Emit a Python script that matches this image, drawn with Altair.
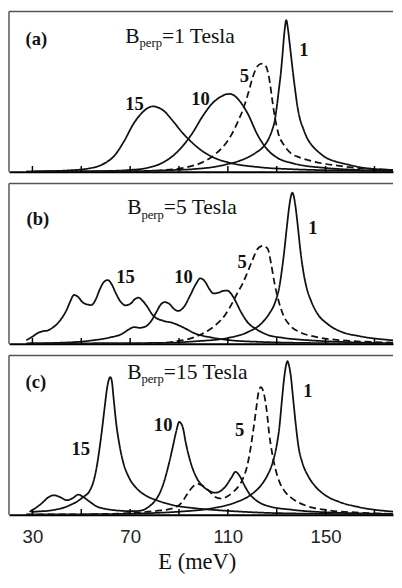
import altair as alt
import pandas as pd

W = 393
E_MIN = 20.4
E_MAX = E_MIN + W / 2.5
HEIGHTS = {"a": 164, "b": 164, "c": 163}
TICKS = [30, 50, 70, 90, 110, 130, 150, 170]
TICK_LABELS = [30, 70, 110, 150]

# ---------------- panel (a) : B_perp = 1 Tesla ----------------
A1_E = [27.5, 50, 70, 85, 96.8, 104, 110.1, 115, 118.1, 121.5, 124.1, 126.8, 128, 129.1, 130.1, 130.9, 131.7, 132.3, 133.2, 133.9, 134.6, 135.3, 135.9, 136.8, 137.5, 138.4, 139.5, 140.8, 142.3, 144.1, 147, 150.1, 154, 158.1, 166.1, 177.6]
A1_V = [0.2, 0.3, 0.4, 1.0, 1.8, 3.0, 4.9, 7.0, 9.0, 12.0, 15.0, 21.0, 25.5, 31.3, 41.5, 51.6, 62, 72, 88, 94.7, 89, 80, 72, 60, 51.6, 41.5, 33, 27.2, 21.5, 17.1, 12.5, 8.9, 6.5, 4.9, 2.4, 1.2]
A5_E = [27.5, 60, 76.8, 86.1, 92.8, 99.5, 104.8, 108.8, 111.5, 114.1, 116.8, 118.8, 120.1, 122.1, 123.2, 124.1, 125, 125.9, 127.2, 128.1, 129.1, 130.8, 132.8, 135.5, 139.5, 144.8, 150.1, 156.8, 163.5, 177.6]
A5_V = [0, 0.2, 0.4, 1.4, 2.8, 5.9, 11, 17.1, 23.2, 31.3, 41.5, 51.6, 58.7, 65.9, 67.3, 67.5, 66.8, 64.8, 55.7, 45.5, 35.4, 23.2, 17.1, 12, 8.9, 6.5, 4.9, 3.5, 2.4, 1.2]
A10_E = [27.5, 45, 56.8, 70.1, 76.8, 83.5, 87.5, 91.5, 95.5, 99.5, 103.5, 107.5, 109.3, 110.8, 112.3, 114.1, 118.1, 122.1, 126.1, 130.1, 136.8, 150.1, 163.5, 177.6]
A10_V = [0, 0.2, 0.4, 1.2, 2.4, 5.9, 10, 16.1, 24.2, 34.3, 42.5, 47.2, 48.4, 48.6, 47.9, 45.5, 36.4, 23.2, 14, 8.9, 5.3, 2.4, 1.2, 0.6]
A15_E = [27.5, 30.1, 43.5, 54.1, 59.5, 63.5, 67.5, 71.5, 75.5, 77.8, 79.5, 81.3, 83.5, 87.5, 91.5, 94.1, 99.5, 104.8, 110.1, 123.5, 136.8, 150.1, 177.6]
A15_V = [0.1, 0.2, 0.8, 2.4, 5.3, 10, 19.1, 30.3, 37.8, 40.3, 40.9, 40.2, 38.4, 31.7, 24.2, 20.1, 13, 8.5, 5.9, 2.8, 1.6, 1, 0.4]

# ---------------- panel (b) : B_perp = 5 Tesla ----------------
B1_E = [27.5, 60, 83.5, 96.8, 110.1, 118.1, 123.5, 126.8, 129.5, 131.1, 132.1, 133.1, 134.1, 135.2, 135.8, 136.4, 137, 137.6, 138.7, 139.7, 140.8, 142.1, 144.1, 146.8, 150.8, 156.8, 163.5, 177.6]
B1_V = [0.2, 0.4, 0.6, 1.6, 3.7, 7.3, 12.4, 18.5, 26.6, 35.8, 45.9, 58.1, 72.4, 86.6, 92, 94.3, 92, 86.6, 72.4, 58.1, 45.9, 35.8, 26.6, 18.5, 12.4, 7.3, 4.9, 2.2]
B5_E = [27.5, 50, 70.1, 80.8, 88.8, 95.5, 100.8, 105.5, 108.8, 111.5, 113.9, 116.1, 118.1, 120.1, 122.1, 123.5, 124.5, 125.5, 126.4, 127.7, 129.1, 130.8, 132.8, 135.5, 139.5, 146.1, 156.8, 177.6]
B5_V = [0, 0, 0, 0.4, 1.6, 3.7, 7.3, 12.4, 17.9, 24.6, 31.7, 37.8, 44.9, 52.4, 59.1, 60.8, 61.2, 60.5, 59.1, 50, 37.8, 26.6, 17.5, 11.4, 7.3, 4.3, 2.2, 0.8]
B10_E = [27.5, 40, 50, 54.8, 61.5, 66.8, 69.5, 71.5, 74, 76.5, 78.5, 80.8, 82.5, 84.1, 86, 87.8, 89.5, 92, 94.5, 96.8, 98.8, 100.8, 102.5, 104.1, 106, 108, 109.8, 111.2, 112.8, 115.5, 118.1, 121.5, 126.1, 132.8, 143.5, 156.8, 177.6]
B10_V = [0.2, 0.6, 1.4, 2.2, 3.9, 6.3, 9, 10.4, 10, 11, 14, 20, 24.5, 26, 25, 22, 20.5, 23, 30, 37, 40.9, 38.5, 34, 31.5, 31.8, 33, 33.2, 31.5, 27.6, 19.5, 13.4, 9.3, 5.7, 3.7, 2.2, 1.2, 0.4]
B15_E = [27.5, 30, 32.1, 34, 36.1, 38, 40.1, 42, 44.1, 45.5, 47, 48.5, 50.8, 54.1, 56, 57.5, 59.2, 60.8, 62.5, 64.1, 66, 68.1, 70.5, 72, 73.5, 75, 76.8, 79.5, 83.5, 87.5, 91.5, 96.8, 103.5, 110.1, 123.5, 150, 177.6]
B15_V = [2.2, 4.5, 6.7, 7.8, 8.3, 9.8, 12.4, 16, 21.5, 26.5, 30.5, 29.5, 25.6, 24.2, 28, 33.7, 38.5, 39.8, 37, 31.7, 26.5, 24, 25.5, 28, 28.8, 27, 23.6, 17.5, 14.4, 13, 10.4, 6.3, 3.9, 2.4, 1.2, 0.4, 0]

# ---------------- panel (c) : B_perp = 15 Tesla ----------------
C1_E = [27.5, 56.8, 76.8, 90.1, 103.5, 112.8, 119.5, 123.5, 126.1, 128.3, 129.9, 131.1, 132.1, 133.2, 133.9, 134.4, 134.9, 135.7, 136.8, 137.9, 138.9, 140.5, 142.8, 145.5, 149.5, 155.5, 163.5, 177.6]
C1_V = [0.3, 0.4, 1, 2, 4.1, 7.6, 12.7, 18.4, 24.5, 32.7, 42.9, 55.2, 71.6, 87.9, 94.5, 96.5, 94.5, 87.9, 71.6, 55.2, 42.9, 32.7, 24.5, 18.4, 12.7, 8.2, 4.9, 2]
C5_E = [27.5, 56.8, 70.1, 80.8, 87.5, 90.8, 93.5, 95.5, 97.5, 99.5, 102.1, 104.8, 107.5, 110.1, 112.1, 114.1, 116.1, 117.9, 119.2, 120.4, 121.5, 122.4, 123.5, 124.8, 125.9, 126.9, 128.1, 129.5, 131.2, 133.5, 136.8, 142.1, 150.1, 163.5, 177.6]
C5_V = [0.2, 0.4, 1.2, 2.5, 4.1, 7.2, 13.3, 17.4, 19.4, 18.4, 15.3, 11.2, 10.2, 11.9, 14.3, 17.4, 22.5, 30.7, 40.9, 53.2, 65.4, 75.7, 80.2, 75.7, 65.4, 51.1, 38.9, 28.6, 20.4, 14.3, 9.8, 5.7, 3.1, 1.4, 0.6]
C10_E = [28.8, 31, 34, 36.5, 38.8, 41.5, 44.1, 46.5, 48.8, 51, 53.5, 56, 58.8, 62, 66.8, 71, 74.8, 77.5, 80, 82.5, 84.5, 86, 87.5, 88.8, 90.1, 91.5, 92.8, 94.8, 96.8, 99.5, 102.1, 104.8, 106.8, 108.8, 111.5, 113.1, 114.8, 116.8, 118.8, 121.5, 126.1, 136.8, 150.1, 177.6]
C10_V = [2, 4, 7.5, 11, 12.3, 11, 9.2, 10.5, 12.7, 11, 8.2, 5.5, 4.1, 3.2, 2.5, 2.3, 2.8, 5, 8.5, 15, 24, 33, 43, 52, 58.3, 55.2, 45, 32.7, 24.5, 18.4, 15.3, 13.9, 14.8, 17.4, 23.5, 27, 24.5, 18.4, 13.3, 9.2, 5.7, 3.1, 1.6, 0.6]
C15_E = [29.5, 33, 36.1, 39.5, 42.8, 45.5, 48.1, 50.8, 53.5, 55, 56.3, 57.5, 58.6, 59.6, 60.6, 61.3, 61.9, 62.5, 63.2, 64.3, 65.5, 67.2, 69.5, 72.8, 76.5, 80.8, 87.5, 96.8, 110.1, 123.5, 150.1, 177.6]
C15_V = [1.8, 2.2, 2.5, 3.3, 4.5, 6.2, 8.2, 11.2, 15.3, 21, 30, 42, 55, 68, 80, 85, 86.5, 84, 73.6, 57.3, 45, 32.7, 23.5, 16.4, 12, 9.2, 6.1, 4.1, 2.5, 1.4, 0.6, 0.2]

CURVES = {
    "a": {"1": (A1_E, A1_V), "5": (A5_E, A5_V), "10": (A10_E, A10_V), "15": (A15_E, A15_V)},
    "b": {"1": (B1_E, B1_V), "5": (B5_E, B5_V), "10": (B10_E, B10_V), "15": (B15_E, B15_V)},
    "c": {"1": (C1_E, C1_V), "5": (C5_E, C5_V), "10": (C10_E, C10_V), "15": (C15_E, C15_V)},
}

# curve-number labels (label, E, v)
LABEL_TEXT = ["1", "5", "10", "15"]
LABEL_E = {"a": [141.1, 116.8, 98.8, 71.8], "b": [144.8, 115.8, 91.8, 68.1], "c": [142.8, 114.8, 83.5, 49.8]}
LABEL_V = {"a": [76, 59.6, 45.5, 42.5], "b": [72.4, 51, 41.5, 41.5], "c": [77.7, 53.2, 56.2, 41.4]}

PANEL_LETTER = {"a": "(a)", "b": "(b)", "c": "(c)"}
FIELD_VALUE = {"a": "=1 Tesla", "b": "=5 Tesla", "c": "=15 Tesla"}
# layout of annotation text (pixels inside each panel)
LETTER_POS = {"a": (17, 34), "b": (18, 42), "c": (17, 33)}
BTEXT_POS = {"a": (119, 32), "b": (121, 31.3), "c": (121, 23.7)}

SERIF = "Liberation Serif"
SANS = "Liberation Sans"


def one(text):
    return pd.DataFrame({"t": [text]})


def panel(key, bottom):
    H = HEIGHTS[key]
    rows = []
    for name, (es, vs) in CURVES[key].items():
        for e, v in zip(es, vs):
            rows.append({"curve": name, "E": e, "v": v,
                         "style": "dashed" if name == "5" else "solid"})
    df = pd.DataFrame(rows)

    if bottom:
        axis = alt.Axis(values=TICK_LABELS, format="d", ticks=False, grid=False,
                        domain=True, domainColor="black", domainWidth=2,
                        labelFont=SANS, labelFontSize=19, labelColor="#222",
                        labelPadding=13, title=None, labelFlush=False)
    else:
        axis = alt.Axis(labels=False, ticks=False, grid=False, domain=True,
                        domainColor="black", domainWidth=2, title=None)
    xs = alt.Scale(domain=[E_MIN, E_MAX], nice=False, zero=False)
    ys = alt.Scale(domain=[0, 100], nice=False, zero=False)
    x_enc = alt.X("E:Q", scale=xs, axis=axis)
    y_enc = alt.Y("v:Q", scale=ys, axis=None)

    lines = alt.Chart(df).mark_line(interpolate="monotone", strokeWidth=1.8,
                                    color="#111", clip=True).encode(
        x=x_enc, y=y_enc, detail="curve:N",
        strokeDash=alt.StrokeDash("style:N", scale=alt.Scale(
            domain=["solid", "dashed"], range=[[1, 0], [7, 4]]), legend=None),
    )

    ticks = alt.Chart(pd.DataFrame({"E": TICKS})).mark_rule(
        color="black", strokeWidth=1.5).encode(
        x=x_enc, y=alt.value(H), y2=alt.value(H - 6))

    left = alt.Chart(one("")).mark_rule(color="#555", strokeWidth=1.5).encode(
        x=alt.value(0), y=alt.value(0), y2=alt.value(H))
    top = alt.Chart(one("")).mark_rule(color="#555", strokeWidth=1.5).encode(
        x=alt.value(0), x2=alt.value(W), y=alt.value(0))

    lab = pd.DataFrame({"label": LABEL_TEXT, "E": LABEL_E[key], "v": LABEL_V[key]})
    labels = alt.Chart(lab).mark_text(font=SERIF, fontWeight="bold", fontSize=19,
                                      align="center", baseline="middle",
                                      color="#111").encode(
        x=x_enc, y=y_enc, text="label:N")

    lx, ly = LETTER_POS[key]
    letter = alt.Chart(one(PANEL_LETTER[key])).mark_text(
        font=SERIF, fontWeight="bold", fontSize=19, align="left",
        baseline="alphabetic", color="#111").encode(
        x=alt.value(lx), y=alt.value(ly), text="t:N")

    bx, by = BTEXT_POS[key]
    b1 = alt.Chart(one("B")).mark_text(font=SERIF, fontSize=22, align="left",
                                       baseline="alphabetic", color="#111").encode(
        x=alt.value(bx), y=alt.value(by), text="t:N")
    b2 = alt.Chart(one("perp")).mark_text(font=SERIF, fontSize=13, align="left",
                                          baseline="alphabetic", color="#111").encode(
        x=alt.value(bx + 14.5), y=alt.value(by + 4.5), text="t:N")
    b3 = alt.Chart(one(FIELD_VALUE[key])).mark_text(font=SERIF, fontSize=22, align="left",
                                                    baseline="alphabetic", color="#111").encode(
        x=alt.value(bx + 37.5), y=alt.value(by), text="t:N")

    layers = [lines, ticks, left, top, labels, letter, b1, b2, b3]
    if bottom:
        title = alt.Chart(one("E (meV)")).mark_text(font=SERIF, fontSize=23, align="center",
                                                    baseline="alphabetic", color="#111").encode(
            x=alt.value(192.7), y=alt.value(218), text="t:N")
        layers.append(title)
    return alt.layer(*layers).properties(width=W, height=H)


chart = alt.vconcat(panel("a", False), panel("b", False), panel("c", True), spacing=10).properties(
    padding={"left": 0, "top": -4, "right": 0, "bottom": 0}
).configure_view(stroke=None)

chart.save("out.html", embed_options={"renderer": "svg", "actions": False})
